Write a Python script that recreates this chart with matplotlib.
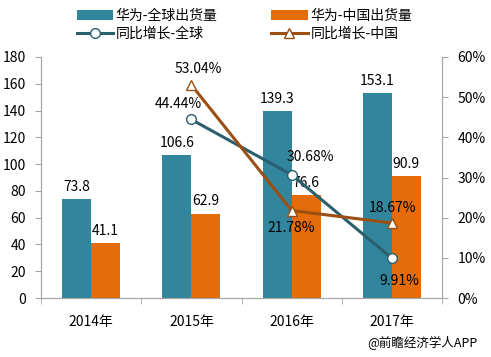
import numpy as np
import matplotlib.pyplot as plt

plt.rcParams['font.family'] = ['Noto Sans CJK SC', 'DejaVu Sans']

years = ['2014年', '2015年', '2016年', '2017年']
global_ship = [73.8, 106.6, 139.3, 153.1]
china_ship = [41.1, 62.9, 76.6, 90.9]
global_growth = [44.44, 30.68, 9.91]   # 2015-2017
china_growth = [53.04, 21.78, 18.67]   # 2015-2017

c_blue = '#31859C'
c_orange = '#E46C0A'
c_gline = '#2A5F6E'
c_cline = '#9C4F12'
c_spine = '#A6A6A6'

fig = plt.figure(figsize=(4.91, 3.57), dpi=100)
ax = fig.add_axes([41/491, 1-298/357, 401/491, 241/357])
ax2 = ax.twinx()

x = np.arange(len(years))
w = 0.29
b1 = ax.bar(x - w/2, global_ship, w, color=c_blue, label='华为-全球出货量', zorder=2)
b2 = ax.bar(x + w/2, china_ship, w, color=c_orange, label='华为-中国出货量', zorder=2)
for xi, v in zip(x, global_ship):
    ax.text(xi - w/2, v + 4, f'{v}', ha='center', va='bottom', fontsize=10)
for xi, v in zip(x, china_ship):
    ax.text(xi + w/2, v + 4, f'{v}', ha='center', va='bottom', fontsize=10)

xl = x[1:]
l1, = ax2.plot(xl, global_growth, color=c_gline, lw=2.2, marker='o', ms=7,
               mfc='white', mec=c_gline, mew=1, label='同比增长-全球', zorder=3)
l2, = ax2.plot(xl, china_growth, color=c_cline, lw=2.2, marker='^', ms=7,
               mfc='white', mec=c_cline, mew=1, label='同比增长-中国', zorder=3)

# percentage labels
offs_g = [(-0.13, 2.2, 'bottom'), (0.19, 2.8, 'bottom'), (0.07, -4.0, 'top')]
offs_c = [(0.07, 2.2, 'bottom'), (0.0, -2.6, 'top'), (0.01, 2.0, 'bottom')]
for xi, v, (dx, dy, va) in zip(xl, global_growth, offs_g):
    ax2.text(xi + dx, v + dy, f'{v:.2f}%', ha='center', va=va, fontsize=10, zorder=4)
for xi, v, (dx, dy, va) in zip(xl, china_growth, offs_c):
    ax2.text(xi + dx, v + dy, f'{v:.2f}%', ha='center', va=va, fontsize=10, zorder=4)

ax.set_xlim(-0.5, 3.5)
ax.set_ylim(0, 180)
ax.set_yticks(np.arange(0, 181, 20))
ax2.set_ylim(0, 60)
ax2.set_yticks(np.arange(0, 61, 10))
ax2.set_yticklabels([f'{v}%' for v in range(0, 61, 10)])

ax.set_xticks(x)
ax.set_xticklabels(years)
ax.set_xticks(np.arange(-0.5, 4, 1), minor=True)
ax.tick_params(axis='x', which='major', length=0, pad=12, labelsize=10)
ax.tick_params(axis='x', which='minor', length=4, color=c_spine)
ax.tick_params(axis='y', length=4, color=c_spine, labelsize=10, pad=7)
ax2.tick_params(axis='y', length=4, color=c_spine, labelsize=10, pad=7)

for a in (ax, ax2):
    a.spines['top'].set_visible(False)
    for s in ('left', 'right', 'bottom'):
        a.spines[s].set_color(c_spine)

handles = [b1, l1, b2, l2]
fig.legend(handles, [h.get_label() for h in handles], ncol=2, loc='upper left',
           bbox_to_anchor=(64/491, 1.01), frameon=False, fontsize=10,
           columnspacing=3.9, handlelength=2.6, handletextpad=0.2, labelspacing=0.25)

fig.text(478/491, 1-343/357, '@前瞻经济学人APP', ha='right', va='center', fontsize=9)

fig.savefig('out.png', dpi=100)
